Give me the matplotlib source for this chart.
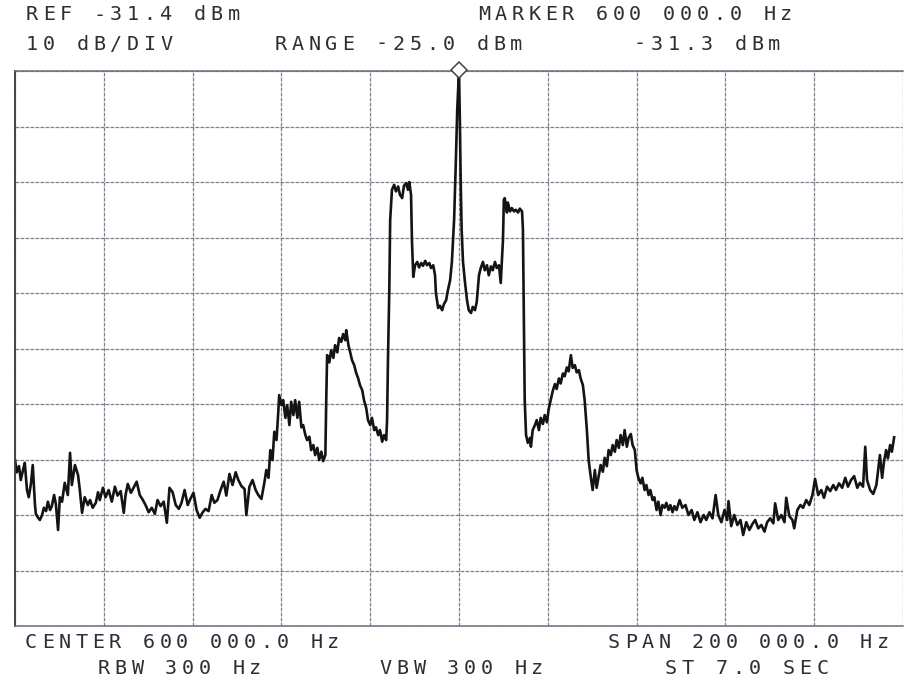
import numpy as np
import matplotlib.pyplot as plt

# analyser settings printed around the screen
REF_DBM = -31.4
DB_PER_DIV = 10
CENTER_HZ = 600000.0
SPAN_HZ = 200000.0
MARKER_KHZ = 600.0
MARKER_DBM = -31.3

header_lines = [("REF -31.4 dBm", 26, 15), ("MARKER 600 000.0 Hz", 478, 15),
                ("10 dB/DIV", 26, 44), ("RANGE -25.0 dBm", 275, 44),
                ("-31.3 dBm", 634, 44)]
footer_lines = [("CENTER 600 000.0 Hz", 25, 643), ("SPAN 200 000.0 Hz", 608, 643),
                ("RBW 300 Hz", 98, 668), ("VBW 300 Hz", 380, 668),
                ("ST 7.0 SEC", 665, 668)]

# trace, frequency in kHz / level in dBm
freq_khz = [
    500.0, 500.4, 500.9, 501.3, 501.8, 502.2, 502.7, 503.1, 503.6, 504.0,
    504.5, 504.7, 505.2, 505.6, 506.1, 506.5, 507.0, 507.4, 507.9, 508.3,
    508.8, 509.2, 509.7, 510.1, 510.6, 511.2, 511.9, 512.4, 512.8, 513.5,
    514.2, 514.6, 515.1, 515.7, 516.4, 516.9, 517.5, 518.2, 518.7, 519.1,
    519.8, 520.4, 521.1, 521.8, 522.5, 523.1, 523.8, 524.5, 524.9, 525.4,
    526.1, 526.7, 527.4, 528.1, 528.8, 529.4, 530.1, 530.8, 531.5, 532.1,
    532.8, 533.5, 534.2, 534.8, 535.5, 536.2, 536.9, 537.5, 538.2, 538.9,
    539.5, 540.2, 540.9, 541.6, 542.2, 542.9, 543.6, 544.3, 544.9, 545.6,
    546.3, 547.0, 547.6, 548.3, 549.0, 549.7, 550.3, 551.0, 551.7, 552.1,
    552.8, 553.5, 554.2, 554.8, 555.5, 556.2, 556.6, 557.1, 557.5, 558.0,
    558.4, 558.9, 559.3, 559.5, 560.0, 560.4, 560.9, 561.3, 561.8, 562.2,
    562.7, 563.1, 563.6, 564.0, 564.5, 564.9, 565.4, 565.8, 566.3, 566.7,
    567.2, 567.6, 568.1, 568.5, 569.0, 569.4, 569.9, 570.1, 570.3, 570.8,
    571.2, 571.7, 572.1, 572.6, 573.0, 573.5, 573.9, 574.4, 574.6, 575.1,
    575.5, 575.9, 576.4, 576.8, 577.3, 577.7, 578.2, 578.6, 579.1, 579.5,
    580.0, 580.4, 580.9, 581.3, 581.8, 582.2, 582.7, 583.1, 583.6, 583.8,
    584.0, 584.3, 584.5, 584.9, 585.4, 585.8, 586.3, 586.7, 587.2, 587.6,
    588.1, 588.5, 588.8, 589.2, 589.4, 589.7, 590.1, 590.6, 591.0, 591.5,
    591.9, 592.4, 592.8, 593.3, 593.7, 594.2, 594.6, 594.8, 595.3, 595.7,
    596.2, 596.6, 597.1, 597.5, 598.0, 598.4, 598.9, 599.3, 599.6, 600.0,
    600.2, 600.4, 600.6, 600.9, 601.3, 601.8, 602.2, 602.7, 603.1, 603.6,
    604.0, 604.5, 604.9, 605.4, 605.8, 606.3, 606.7, 607.2, 607.6, 608.1,
    608.5, 609.0, 609.4, 609.9, 610.1, 610.3, 610.8, 611.0, 611.5, 611.9,
    612.4, 612.8, 613.3, 613.7, 614.2, 614.4, 614.6, 614.8, 615.1, 615.5,
    616.0, 616.2, 616.6, 617.1, 617.5, 618.0, 618.4, 618.9, 619.3, 619.8,
    620.2, 620.7, 621.1, 621.6, 622.0, 622.5, 622.9, 623.4, 623.8, 624.3,
    624.7, 625.2, 625.6, 626.1, 626.5, 627.0, 627.4, 627.9, 628.3, 628.8,
    629.2, 629.7, 630.1, 630.6, 631.0, 631.5, 631.9, 632.4, 632.8, 633.3,
    633.7, 634.2, 634.6, 635.1, 635.5, 636.0, 636.4, 636.9, 637.3, 637.8,
    638.2, 638.7, 639.1, 639.6, 640.0, 640.4, 640.9, 641.3, 641.8, 642.2,
    642.7, 643.1, 643.6, 644.0, 644.5, 644.9, 645.4, 645.8, 646.3, 646.7,
    647.2, 647.6, 648.1, 648.5, 649.0, 649.7, 650.3, 651.0, 651.7, 652.4,
    653.0, 653.7, 654.4, 655.1, 655.7, 656.4, 657.1, 657.8, 658.4, 659.1,
    659.8, 660.4, 660.7, 661.3, 662.0, 662.7, 663.4, 664.0, 664.7, 665.4,
    666.1, 666.7, 667.4, 668.1, 668.8, 669.4, 670.1, 670.8, 671.2, 671.9,
    672.6, 673.3, 673.7, 674.4, 675.1, 675.5, 676.2, 676.9, 677.5, 678.2,
    678.9, 679.6, 680.2, 680.9, 681.6, 682.2, 682.9, 683.6, 684.3, 684.9,
    685.6, 686.3, 687.0, 687.6, 688.3, 689.0, 689.7, 690.3, 691.0, 691.5,
    691.9, 692.6, 693.3, 694.0, 694.4, 694.8, 695.3, 695.7, 696.2, 696.6,
    697.1, 697.5, 698.0,
]
level_dbm = [
    -101.5, -103.7, -102.6, -105.1, -103.3, -102.0, -106.9, -108.2, -105.7, -102.4,
    -109.6, -111.2, -111.9, -112.3, -111.4, -110.1, -110.7, -109.0, -110.5, -109.8,
    -107.8, -109.4, -114.1, -108.2, -109.0, -105.6, -107.8, -100.2, -106.0, -102.4,
    -104.2, -106.9, -111.0, -108.2, -109.6, -108.7, -110.1, -109.2, -107.3, -108.7,
    -106.5, -108.2, -106.9, -109.0, -106.3, -107.9, -107.1, -111.0, -107.8, -105.8,
    -107.4, -106.5, -105.4, -107.8, -108.7, -109.6, -110.9, -110.1, -111.2, -108.7,
    -109.8, -109.0, -112.8, -106.5, -107.3, -109.6, -110.3, -109.2, -106.9, -109.6,
    -108.5, -107.4, -110.5, -111.9, -111.0, -110.3, -110.7, -107.8, -109.2, -108.7,
    -106.9, -105.4, -107.9, -104.0, -106.0, -103.7, -105.1, -106.2, -106.7, -111.4,
    -106.3, -105.1, -106.9, -107.8, -108.5, -105.4, -103.3, -104.7, -99.7, -101.5,
    -96.4, -97.9, -92.8, -89.8, -91.6, -90.7, -93.9, -91.6, -95.2, -91.0,
    -93.4, -90.7, -93.9, -91.0, -95.6, -95.2, -97.0, -97.9, -97.3, -99.7,
    -98.8, -100.6, -99.3, -101.5, -100.0, -101.7, -100.6, -90.7, -82.6, -83.9,
    -81.7, -83.1, -80.8, -82.1, -79.5, -80.2, -78.8, -79.9, -78.1, -80.8,
    -82.1, -83.5, -84.4, -85.7, -86.8, -88.0, -88.9, -90.7, -92.1, -94.3,
    -95.2, -93.9, -96.1, -95.6, -97.0, -96.1, -98.2, -97.0, -97.9, -94.3,
    -83.5, -70.9, -58.2, -52.8, -51.9, -53.1, -52.2, -53.7, -54.3, -52.1,
    -51.6, -52.8, -51.4, -53.7, -61.9, -68.5, -66.4, -65.8, -66.8, -66.0,
    -66.5, -65.6, -66.4, -66.0, -66.9, -66.4, -68.2, -71.4, -74.1, -73.7,
    -74.5, -73.4, -72.7, -70.9, -69.1, -65.8, -58.2, -47.4, -38.4, -31.3,
    -40.5, -52.0, -60.1, -65.8, -69.1, -72.7, -74.5, -75.0, -73.9, -74.5,
    -73.0, -68.2, -66.9, -65.8, -67.3, -66.4, -68.2, -66.6, -67.3, -65.8,
    -66.9, -66.4, -69.6, -61.9, -54.6, -54.3, -56.9, -55.1, -56.7, -56.1,
    -56.7, -56.4, -56.9, -56.2, -56.7, -60.0, -76.3, -90.7, -97.0, -98.4,
    -97.5, -99.1, -96.1, -95.2, -94.3, -96.1, -93.9, -95.0, -93.4, -94.7,
    -92.3, -90.5, -89.1, -87.8, -88.7, -86.8, -87.7, -85.9, -86.4, -84.8,
    -85.5, -82.6, -84.9, -84.4, -85.7, -85.3, -86.8, -88.0, -90.7, -96.1,
    -101.5, -104.7, -106.9, -103.3, -106.5, -104.2, -102.4, -103.6, -101.1, -102.6,
    -99.7, -100.6, -98.8, -100.0, -97.9, -99.3, -97.0, -98.8, -96.1, -99.1,
    -97.5, -96.8, -98.8, -99.7, -103.3, -104.7, -105.7, -104.7, -106.9, -106.0,
    -107.8, -106.9, -108.7, -108.2, -110.5, -109.0, -111.4, -109.6, -110.1, -109.2,
    -110.5, -109.6, -110.9, -109.8, -110.5, -108.7, -110.1, -109.6, -111.4, -110.5,
    -112.3, -110.9, -112.7, -111.4, -112.3, -110.9, -112.0, -107.8, -111.4, -112.7,
    -110.5, -112.3, -108.9, -113.4, -111.4, -113.2, -112.3, -115.0, -112.7, -114.1,
    -113.0, -112.3, -113.8, -113.2, -114.4, -112.7, -112.0, -112.9, -109.3, -112.3,
    -111.4, -112.7, -108.3, -111.6, -112.3, -113.8, -110.5, -109.6, -110.1, -108.7,
    -109.6, -107.8, -104.9, -107.8, -106.9, -108.3, -106.3, -107.1, -106.0, -106.9,
    -105.7, -106.5, -104.7, -106.3, -105.1, -104.4, -106.5, -105.6, -106.3, -99.1,
    -105.1, -106.9, -107.6, -106.0, -103.3, -100.6, -104.7, -101.9, -99.7, -101.2,
    -98.8, -100.0, -97.4,
]

W, H = 907, 681
PITCH = 16.8  # printer character pitch in pixels
INK = "#2e2e34"
GRID = "#6a6a7c"

fig = plt.figure(figsize=(W / 100, H / 100), dpi=100)
fig.patch.set_facecolor("white")

left, right, top, bottom = 15, 903, 71, 626
ax = fig.add_axes([left / W, 1 - bottom / H, (right - left) / W, (bottom - top) / H])

f0 = CENTER_HZ / 1000 - SPAN_HZ / 2000
f1 = CENTER_HZ / 1000 + SPAN_HZ / 2000
ax.set_xlim(f0, f1)
ax.set_ylim(REF_DBM - 10 * DB_PER_DIV, REF_DBM)
ax.set_xticks(np.linspace(f0, f1, 11))
ax.set_yticks(REF_DBM - DB_PER_DIV * np.arange(11))
ax.tick_params(length=0, labelbottom=False, labelleft=False)
ax.grid(True, color=GRID, lw=0.9, ls=(0, (3, 1)), alpha=0.85)

for side in ("top", "bottom"):
    ax.spines[side].set_color(GRID)
    ax.spines[side].set_linewidth(1.1)
    ax.spines[side].set_linestyle((0, (3, 1)))
ax.spines["right"].set_visible(False)
ax.spines["left"].set_color("#3a3a48")
ax.spines["left"].set_linewidth(1.3)

ax.plot(freq_khz, level_dbm, color="#141414", lw=1.9, solid_joinstyle="round")

# marker arrow above the carrier
ax.plot([MARKER_KHZ], [MARKER_DBM], marker="D", ms=8, mfc="white",
        mec="#444", mew=1.1, clip_on=False, zorder=5)


def put(s, x, y):
    # fixed-pitch printer text, x/y in pixels from top-left
    for i, ch in enumerate(s):
        fig.text((x + 6 + i * PITCH) / W, 1 - y / H, ch, ha="center",
                 va="center", family="DejaVu Sans Mono", size=14.5, color=INK)


for s, x, y in header_lines + footer_lines:
    put(s, x, y)

fig.savefig("out.png", dpi=100, facecolor="white")
